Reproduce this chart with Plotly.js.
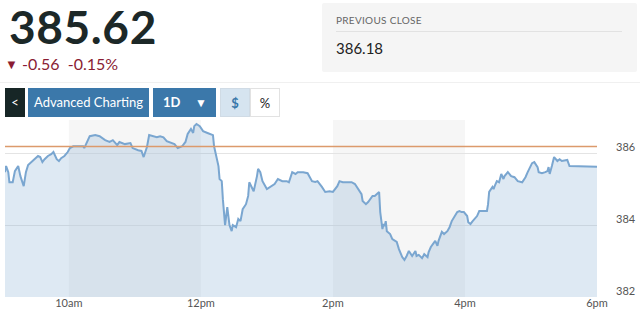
<!DOCTYPE html>
<html>
<head>
<meta charset="utf-8">
<script src="https://cdn.plot.ly/plotly-3.0.1.min.js"></script>
<style>
  html, body { margin:0; padding:0; width:640px; height:320px; overflow:hidden; background:#fff; font-family: Lato, "Open Sans", sans-serif; }
  #chart { position:absolute; left:0; top:0; width:640px; height:320px; }
  .abs { position:absolute; }
  #price { left:9px; top:4px; font-size:46px; line-height:46px; font-weight:700; color:#1c2828; letter-spacing:0.6px; }
  #change { left:5px; top:56px; font-size:16px; line-height:16px; color:#8a1c33; white-space:nowrap; }
  #pcbox { left:322px; top:3px; width:315px; height:69px; background:#f5f5f5; border-radius:2px; }
  #pclabel { left:336px; top:14px; font-size:10px; line-height:12px; color:#666; letter-spacing:0.3px; }
  #pcsep { left:336px; top:31px; width:286px; height:1px; background:#e2e2e2; }
  #pcval { left:336px; top:40px; font-size:15px; line-height:16px; color:#222; }
  #topline { left:0px; top:82px; width:640px; height:1px; background:#f0f0f0; }
  .btn { top:88px; height:29px; line-height:29px; text-align:center; color:#fff; font-size:13px; }
  #back { left:5px; width:20px; background:#172626; font-size:13px; }
  #adv { left:28px; width:121px; background:#3b78aa; }
  #oned { left:153px; width:63px; background:#3b78aa; font-weight:700; }
  #dollar { left:220px; width:30px; background:#d6e4f0; color:#3b78aa; font-weight:700; box-sizing:border-box; border:1px solid #d0dbe5; }
  #pct { left:250px; width:30px; background:#fff; color:#222; box-sizing:border-box; border:1px solid #e2e2e2; }
</style>
</head>
<body>
<div id="chart"></div>
<div id="topline" class="abs"></div>
<div id="price" class="abs">385.62</div>
<div id="change" class="abs"><span style="font-size:13px;vertical-align:1px;">&#9660;</span> -0.56&nbsp; -0.15%</div>
<div id="pcbox" class="abs"></div>
<div id="pclabel" class="abs">PREVIOUS CLOSE</div>
<div id="pcsep" class="abs"></div>
<div id="pcval" class="abs">386.18</div>
<div id="back" class="abs btn">&lt;</div>
<div id="adv" class="abs btn">Advanced Charting</div>
<div id="oned" class="abs btn"><span style="position:absolute;left:10px;">1D</span><span style="position:absolute;left:42px;font-size:12px;">&#9660;</span></div>
<div id="dollar" class="abs btn">$</div>
<div id="pct" class="abs btn">%</div>
<script>
const day = "2024-01-08 ";
const times = ["09:02","09:03","09:05","09:06","09:09","09:11","09:14","09:16","09:19","09:21","09:23","09:26","09:29","09:32","09:34","09:36","09:38","09:41","09:44","09:46","09:49","09:51","09:53","09:56","09:59",
"10:01","10:04","10:10","10:13","10:14","10:17","10:19","10:24","10:28","10:33","10:37","10:40","10:44","10:46","10:51","10:56","10:58",
"11:03","11:06","11:08","11:11","11:13","11:16","11:20","11:23","11:26","11:29","11:34","11:36","11:39","11:43","11:46","11:48","11:51","11:53","11:54","11:56","11:59",
"12:02","12:06","12:08","12:11","12:12","12:14","12:16","12:17","12:19","12:20","12:22","12:24","12:25","12:26","12:28","12:29","12:32","12:34","12:36","12:38","12:41","12:43","12:44","12:46","12:48","12:51","12:52","12:54","12:56",
"13:00","13:04","13:07","13:10","13:14","13:18","13:20","13:23","13:26","13:28","13:33","13:37","13:41","13:44","13:46","13:50","13:53","13:57",
"14:00","14:04","14:06","14:09","14:13","14:17","14:20","14:23","14:26","14:27","14:30","14:32","14:36","14:38","14:40","14:42","14:43","14:45","14:46","14:47","14:48","14:49","14:52","14:54","14:58",
"15:00","15:03","15:05","15:07","15:09","15:12","15:15","15:16","15:18","15:21","15:23","15:26","15:27","15:29","15:31","15:33","15:35","15:36","15:39","15:41","15:44","15:46","15:48","15:50","15:53","15:55","15:57","15:59",
"16:02","16:03","16:05","16:07","16:11","16:13","16:16","16:20","16:21","16:22","16:25","16:26","16:27","16:29","16:31","16:33","16:35","16:36","16:39","16:42","16:45","16:48","16:52","16:55","16:57",
"17:01","17:03","17:06","17:07","17:10","17:13","17:15","17:16","17:17","17:19","17:21","17:24","17:26","17:28","17:31","17:33","17:35","17:38","18:00"];
const prices = [385.47,385.64,385.47,385.19,385.19,385.50,385.64,385.36,385.08,385.47,385.67,385.75,385.83,385.92,385.89,385.75,385.83,385.92,385.97,386.03,385.83,385.78,385.86,385.92,386.03,
386.14,386.19,386.19,386.19,386.14,386.33,386.47,386.50,386.47,386.36,386.31,386.36,386.22,386.31,386.25,386.28,386.14,
386.08,386.06,385.89,386.17,386.50,386.47,386.44,386.47,386.44,386.33,386.28,386.25,386.14,386.19,386.31,386.53,386.67,386.56,386.75,386.81,386.75,
386.61,386.56,386.53,386.50,386.19,385.92,385.64,385.28,385.22,384.72,384.00,384.50,384.17,384.00,383.83,384.00,383.94,384.17,384.11,384.44,384.58,384.81,385.19,385.08,384.94,385.36,385.56,385.47,385.22,
385.00,385.08,385.14,385.28,385.22,385.22,385.19,385.47,385.42,385.47,385.47,385.44,385.22,385.20,385.22,385.06,384.92,384.94,
384.92,385.08,385.22,385.19,385.19,385.19,385.14,385.00,384.86,384.67,384.58,384.64,384.81,384.81,384.86,384.92,384.36,383.89,384.03,383.97,384.11,383.83,383.75,383.61,383.53,
383.33,383.11,383.03,383.14,383.28,383.14,383.28,383.14,383.17,383.08,383.19,383.11,383.25,383.39,383.47,383.56,383.42,383.56,383.81,383.75,383.83,383.94,384.11,384.22,384.36,384.39,384.36,384.36,
384.25,384.08,384.03,384.11,384.25,384.39,384.39,384.39,384.58,384.92,385.06,385.00,385.08,385.22,385.19,385.42,385.28,385.36,385.47,385.36,385.33,385.22,385.19,385.33,385.47,
385.72,385.75,385.61,385.47,385.44,385.47,385.50,385.61,385.42,385.64,385.89,385.78,385.83,385.78,385.81,385.81,385.64,385.64,385.62];
const previousClose = 386.18;
const bandStarts = ["10:00","14:00"];
const bandEnds = ["12:00","16:00"];
const tickTimes = ["10:00","12:00","14:00","16:00","18:00"];
const tickLabels = ["10am","12pm","2pm","4pm","6pm"];
const yTicks = [382,384,386];

const xs = times.map(t => day + t);
const shapes = bandStarts.map((s,i) => ({
  type:"rect", xref:"x", yref:"paper", x0: day+s, x1: day+bandEnds[i], y0:0, y1:1,
  fillcolor:"#f6f6f6", line:{width:0}, layer:"below"
}));
shapes.push({type:"line", xref:"paper", yref:"y", x0:0, x1:1, y0:previousClose, y1:previousClose,
  line:{color:"#dc9a6c", width:1.5}, layer:"above"});

const data = [{
  x: xs, y: prices, type:"scatter", mode:"lines",
  line:{color:"#7aa6d0", width:2},
  fill:"tozeroy", fillcolor:"rgba(124,166,208,0.25)",
  hoverinfo:"skip"
}];

const layout = {
  width:640, height:320,
  margin:{l:5, r:43, t:120, b:23, pad:0},
  paper_bgcolor:"rgba(0,0,0,0)", plot_bgcolor:"rgba(0,0,0,0)",
  showlegend:false,
  shapes: shapes,
  xaxis:{
    type:"date", range:[day+"09:02", day+"18:00"],
    tickvals: tickTimes.map(t=>day+t), ticktext: tickLabels,
    showgrid:false, zeroline:false, showline:false,
    ticks:"", ticklabelstandoff:-2,
    tickfont:{family:"Lato, sans-serif", size:11, color:"#555"}
  },
  yaxis:{
    side:"right", range:[382, 386.92],
    tickvals: yTicks, ticktext: yTicks.map(String),
    showgrid:true, gridcolor:"#e4e4e4", gridwidth:1, zeroline:false, showline:false,
    ticks:"", ticklabelstandoff:18, ticklabelshift:-6,
    tickfont:{family:"Lato, sans-serif", size:11, color:"#555"}
  }
};
Plotly.newPlot("chart", data, layout, {displayModeBar:false, staticPlot:true});
</script>
</body>
</html>
